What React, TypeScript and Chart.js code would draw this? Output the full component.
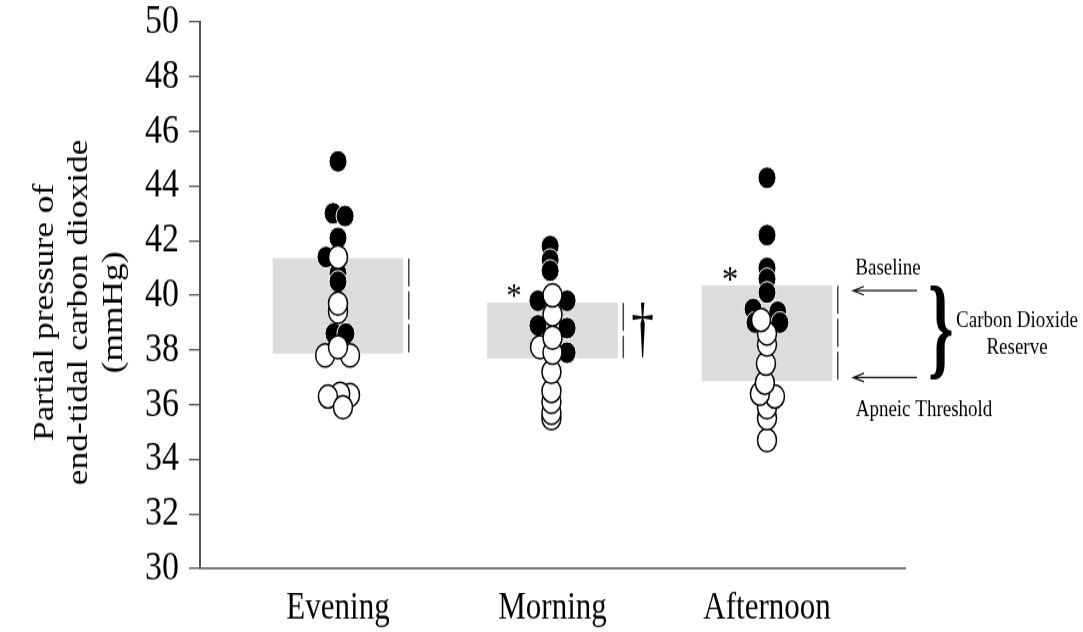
import React, { useEffect, useRef } from 'react';
import { Chart, registerables } from 'chart.js';

Chart.register(...registerables);

const SERIF = '"Liberation Serif", "Times New Roman", serif';

// Categories (x positions 1, 2, 3)
const categories = ['Evening', 'Morning', 'Afternoon'];
const categoryPositions = [1, 2, 3];

// y axis ticks
const yMin = 30;
const yMax = 50;
const yStep = 2;

// Shaded carbon dioxide reserve (baseline -> apneic threshold), mmHg
const baselineCO2 = [41.35, 39.72, 40.35];
const apneicThreshold = [37.88, 37.7, 36.88];

// Filled (black) circles
const eveningFilled = [44.9, 43.0, 42.9, 42.1, 41.4, 40.8, 40.5, 38.6, 38.6];
const eveningFilledJitter = [0, -0.023, 0.033, 0, -0.056, 0, 0, -0.019, 0.037];
const morningFilled = [41.8, 41.3, 40.9, 39.8, 39.8, 38.9, 38.8, 37.9];
const morningFilledJitter = [-0.011, -0.011, -0.011, -0.068, 0.068, -0.068, 0.068, 0.068];
const afternoonFilled = [44.3, 42.2, 41.0, 40.6, 40.1, 39.5, 39.4, 39.0, 39.0];
const afternoonFilledJitter = [0, 0, 0, 0, 0, -0.065, 0.05, -0.056, 0.06];

// Open (white) circles
const eveningOpen = [39.4, 39.7, 41.4, 37.8, 37.8, 38.1, 36.35, 36.4, 36.3, 35.9];
const eveningOpenJitter = [0, 0, 0, -0.06, 0.056, 0, 0.056, 0.01, -0.047, 0.023];
const morningOpen = [35.5, 35.7, 36.1, 36.5, 37.2, 38.1, 37.9, 38.45, 39.3, 40.0];
const morningOpenJitter = [-0.005, -0.005, -0.005, -0.005, -0.005, -0.058, 0, 0, 0, 0];
const afternoonOpen = [34.7, 35.5, 35.9, 36.3, 36.4, 36.8, 37.5, 38.2, 38.6, 39.1];
const afternoonOpenJitter = [0, 0, 0, 0.037, -0.033, -0.01, -0.005, 0, 0, -0.028];

const axisTitleLines = ['Partial pressure of', 'end-tidal carbon dioxide', '(mmHg)'];

const makePoints = (center: number, values: number[], jitter: number[]) =>
  values.map((v, i) => ({ x: center + jitter[i], y: v }));

const dashOffset = 0.33;

function drawFitted(ctx: CanvasRenderingContext2D, text: string, weight: string, x0: number, y0: number, w: number, h: number) {
  ctx.save();
  ctx.font = `${weight} 100px ${SERIF}`;
  ctx.textAlign = 'left';
  ctx.textBaseline = 'alphabetic';
  const m = ctx.measureText(text);
  const gh = m.actualBoundingBoxAscent + m.actualBoundingBoxDescent;
  const gw = m.actualBoundingBoxLeft + m.actualBoundingBoxRight;
  ctx.translate(x0, y0);
  ctx.scale(w / gw, h / gh);
  ctx.fillText(text, m.actualBoundingBoxLeft, m.actualBoundingBoxAscent);
  ctx.restore();
}

const annotationPlugin = {
  id: 'co2Annotations',
  afterDraw(chart: any) {
    const { ctx } = chart;
    const xs = chart.scales.x;
    const ys = chart.scales.y;
    const px = (v: number) => xs.getPixelForValue(v);
    const py = (v: number) => ys.getPixelForValue(v);
    ctx.save();
    ctx.fillStyle = '#000';

    // axis title (three rotated lines)
    ctx.font = `29px ${SERIF}`;
    ctx.textAlign = 'center';
    ctx.textBaseline = 'middle';
    axisTitleLines.forEach((line, i) => {
      ctx.save();
      ctx.translate(45 + i * 34.5, 256);
      ctx.rotate(-Math.PI / 2);
      ctx.fillText(line, 0, 0);
      ctx.restore();
    });

    // asterisks (Morning, Afternoon)
    drawFitted(ctx, '*', 'normal', px(2) - 45, py(baselineCO2[1]) - 15, 13, 10);
    drawFitted(ctx, '*', 'normal', px(3) - 44, py(baselineCO2[2]) - 15, 14, 10.5);

    // dagger next to Morning
    const mTop = py(baselineCO2[1]);
    const mBot = py(apneicThreshold[1]);
    drawFitted(ctx, '\u2020', 'normal', px(2) + 80, mTop + 1.5, 20, mBot - mTop - 1.5);

    // arrows, brace and labels next to Afternoon
    const aTop = py(baselineCO2[2]);
    const aBot = py(apneicThreshold[2]);
    const x3 = px(3);
    ctx.strokeStyle = '#111';
    ctx.lineWidth = 1.1;
    [aTop + 4, aBot - 2.5].forEach((y) => {
      ctx.beginPath();
      ctx.moveTo(x3 + 150, y);
      ctx.lineTo(x3 + 86, y);
      ctx.moveTo(x3 + 97, y - 3.5);
      ctx.lineTo(x3 + 86, y);
      ctx.lineTo(x3 + 97, y + 3.5);
      ctx.stroke();
    });
    drawFitted(ctx, '}', 'bold', x3 + 163, aTop, 22, aBot - aTop);

    ctx.font = `19px ${SERIF}`;
    ctx.textAlign = 'center';
    ctx.textBaseline = 'alphabetic';
    ctx.fillText('Baseline', x3 + 121, aTop - 9);
    ctx.fillText('Carbon Dioxide', x3 + 250, 268);
    ctx.fillText('Reserve', x3 + 250, 289.5);
    ctx.fillText('Apneic Threshold', x3 + 157, aBot + 29.5);
    ctx.restore();
  },
};

export default function App() {
  const ref = useRef<HTMLCanvasElement>(null);

  useEffect(() => {
    if (!ref.current) return;
    const filled = [
      ...makePoints(categoryPositions[0], eveningFilled, eveningFilledJitter),
      ...makePoints(categoryPositions[1], morningFilled, morningFilledJitter),
      ...makePoints(categoryPositions[2], afternoonFilled, afternoonFilledJitter),
    ];
    const open = [
      ...makePoints(categoryPositions[0], eveningOpen, eveningOpenJitter),
      ...makePoints(categoryPositions[1], morningOpen, morningOpenJitter),
      ...makePoints(categoryPositions[2], afternoonOpen, afternoonOpenJitter),
    ];
    const dashSets = categoryPositions.map((c, i) => ({
      type: 'line' as const,
      data: [
        { x: c + dashOffset, y: baselineCO2[i] },
        { x: c + dashOffset, y: apneicThreshold[i] },
      ],
      borderColor: '#444',
      borderWidth: 1.5,
      borderDash: [23, 4],
      pointRadius: 0,
      fill: false,
      order: 5,
    }));

    const chart = new Chart(ref.current, {
      type: 'scatter',
      data: {
        datasets: [
          {
            type: 'scatter',
            data: open,
            backgroundColor: '#fff',
            borderColor: '#000',
            borderWidth: 1.5,
            pointRadius: 9.5,
            order: 1,
          },
          {
            type: 'scatter',
            data: filled,
            backgroundColor: '#000',
            borderColor: '#fff',
            borderWidth: 1,
            pointRadius: 9,
            order: 2,
          },
          ...dashSets,
          {
            type: 'bar',
            data: categoryPositions.map((c, i) => ({ x: c, y: [apneicThreshold[i], baselineCO2[i]] })),
            backgroundColor: '#dcdcdc',
            borderWidth: 0,
            barThickness: 130,
            order: 10,
          } as any,
        ],
      },
      options: {
        responsive: false,
        animation: false,
        events: [],
        layout: { padding: { top: 18, right: 178, left: 0, bottom: 0 } },
        plugins: { legend: { display: false }, tooltip: { enabled: false } },
        scales: {
          x: {
            type: 'linear',
            min: 0.3566,
            max: 3.6433,
            offset: false,
            afterBuildTicks: (s: any) => {
              s.ticks = categoryPositions.map((v) => ({ value: v }));
            },
            ticks: {
              callback: (v: any) => categories[categoryPositions.indexOf(Number(v))] ?? '',
              color: '#000',
              font: { family: SERIF, size: 31 },
              padding: 14,
              autoSkip: false,
              maxRotation: 0,
            },
            grid: { display: false, drawTicks: false, offset: false },
            border: { display: true, color: '#555', width: 1.6 },
            afterFit: (s: any) => {
              s.height = 52;
            },
          },
          y: {
            type: 'linear',
            min: yMin,
            max: yMax,
            beginAtZero: false,
            ticks: {
              stepSize: yStep,
              autoSkip: false,
              color: '#000',
              font: { family: SERIF, size: 34, lineHeight: 0.4 },
              padding: 10,
            },
            grid: {
              display: true,
              drawOnChartArea: false,
              drawTicks: true,
              tickLength: 11,
              color: '#555',
              lineWidth: 1.3,
            },
            border: { display: true, color: '#555', width: 2 },
            afterFit: (s: any) => {
              s.width = 200;
            },
          },
        },
      } as any,
      plugins: [annotationPlugin],
    } as any);

    return () => chart.destroy();
  }, []);

  return (
    <div style={{ position: 'fixed', left: 0, top: 0, width: 1083, height: 632, background: '#fff' }}>
      <canvas
        ref={ref}
        width={1083}
        height={518}
        style={{ display: 'block', width: '1083px', height: '632px' }}
      />
    </div>
  );
}
